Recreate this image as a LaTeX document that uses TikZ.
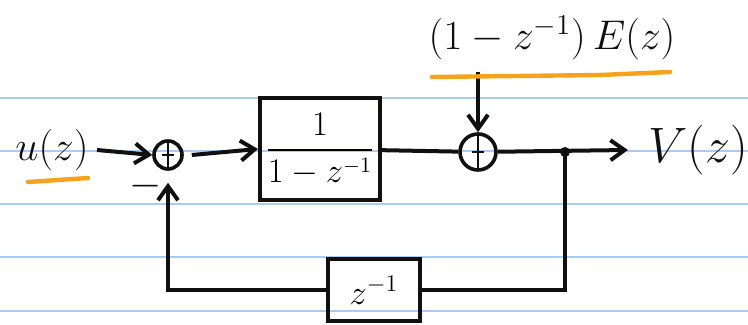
\documentclass[tikz,border=0pt]{standalone}
\usepackage{amsmath}
\usetikzlibrary{arrows.meta,positioning}
\definecolor{ink}{HTML}{101010}
\definecolor{ruled}{HTML}{A8CDF3}
\definecolor{marker}{HTML}{F7A21B}
\tikzset{
  sig/.style={-{Straight Barb[length=7pt,width=10pt,line width=2pt]},ink,line width=2pt},
  wire/.style={ink,line width=2pt},
  blk/.style={draw=ink,line width=2pt,inner sep=2pt},
  sumpt/.style={circle,draw=ink,line width=1.8pt,inner sep=0pt,minimum size=14pt,
    path picture={\draw[ink,line width=1.4pt]
      (path picture bounding box.north) -- (path picture bounding box.south)
      ([xshift=-3pt]path picture bounding box.center) -- ([xshift=3pt]path picture bounding box.center);}},
  lbl/.style={ink,inner sep=1pt,font=\fontsize{22}{26}\selectfont},
  hl/.style={marker,line width=2.2pt,line cap=round},
  ledger/.style={ruled,line width=1pt},
}

\begin{document}
\begin{tikzpicture}[x=0.5pt,y=-0.5pt]
  \useasboundingbox (0,0) rectangle (748,325);
  % notebook lines
  \foreach \y in {98,151,204,257,311}
    \draw[ledger] (0,\y) -- (748,\y);

  % loop
  \node[lbl] (uin) at (52,150) {$u(z)$};
  \node[sumpt] (s1) at (168,155) {};
  \node[blk,minimum width=60pt,minimum height=51pt,font=\fontsize{16}{19}\selectfont]
    (g) at (320,149) {$\dfrac{1}{1-z^{-1}}$};
  \node[sumpt,minimum size=18pt] (s2) at (478,152) {};
  \node[lbl] (err) at (552,38) {$(1-z^{-1})\,E(z)$};
  \node[lbl,font=\fontsize{23}{26}\selectfont] (vout) at (698,150) {$V(z)$};
  \node[blk,minimum width=46pt,minimum height=31pt,font=\fontsize{18}{20}\selectfont]
    (d) at (374,290) {$z^{-1}$};
  \coordinate (br) at (565,152);
  \fill[ink] (br) circle (2.5pt);
  \node[lbl] (neg) at (146,186) {$-$};

  \draw[sig] (uin.east) ++(6,0) coordinate (uo) -- (s1.west);
  \draw[sig] (s1.east) ++(8,0) -- (g.west);
  \draw[wire] (g) -- (s2);
  \draw[sig] (s2) -- ([xshift=-9pt]vout.west);
  \draw[sig] ([yshift=-5pt]err.south -| s2) -- (s2.north);
  \draw[wire] (br) |- (d.east);
  \draw[sig] (d.west) -| ([yshift=-6pt]s1.south);

  % highlighter strokes under the labels
  \draw[hl] (28,182) -- (88,178);
  \draw[hl] (432,77) -- (600,75) -- (670,72);
\end{tikzpicture}
\end{document}
